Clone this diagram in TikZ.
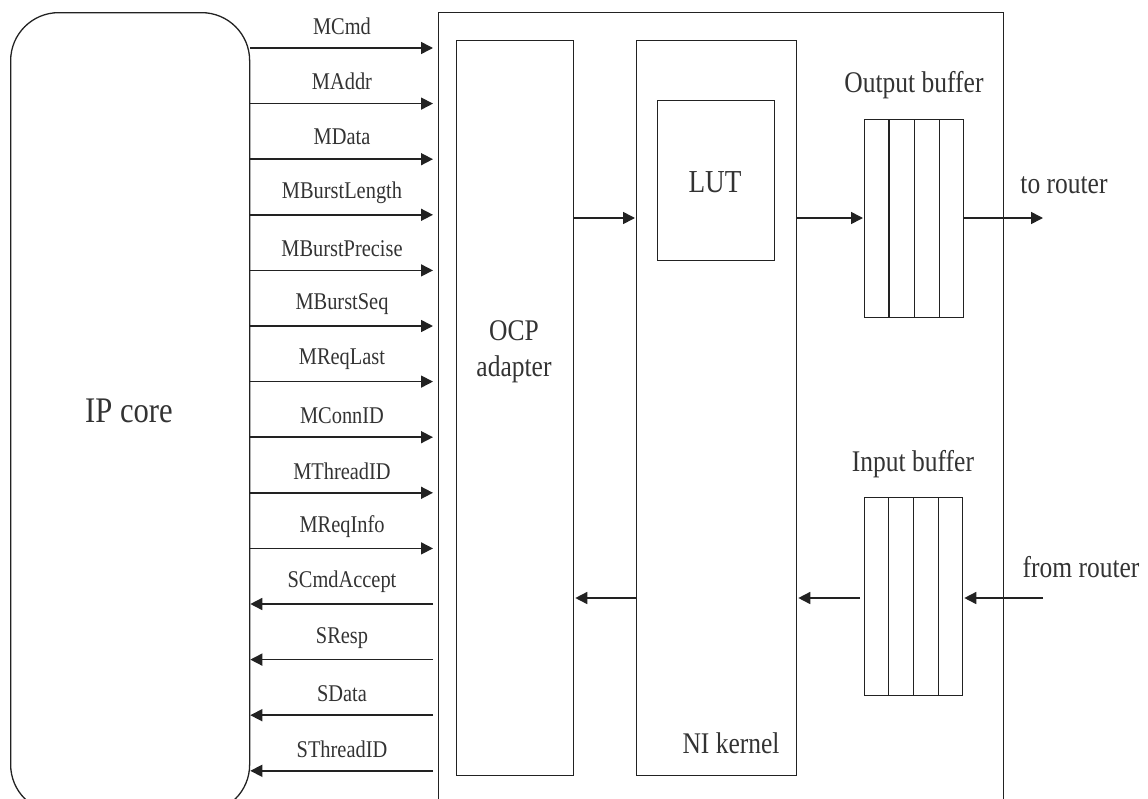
\documentclass[tikz,border=0pt]{standalone}
\usepackage{fontspec}
\setmainfont[FakeStretch=0.85]{Liberation Serif}
\usetikzlibrary{arrows.meta,calc}
\definecolor{ln}{HTML}{222222}
\definecolor{tx}{HTML}{333333}
\tikzset{
  box/.style={draw=ln, line width=1.3pt, fill=none, inner sep=0pt, anchor=north west},
  sig/.style={draw=ln, line width=1.6pt, -{Triangle[length=12pt,width=12pt]}},
  lab/.style={text=tx, font=\fontsize{24}{28}\selectfont, inner sep=0pt},
  big/.style={text=tx, font=\fontsize{30}{36}\selectfont, inner sep=0pt, align=center},
}
\begin{document}
\begin{tikzpicture}[x=1pt,y=-1pt]
\useasboundingbox (0,0) rectangle (1148,798);
% IP core
\node[box, rounded corners=48pt, minimum width=239pt, minimum height=800pt] (ip) at (10,12) {};
\node[text=tx, font=\fontsize{36}{40}\selectfont] (iplab) at (129,411) {IP core};
% NI outer
\node[box, minimum width=565pt, minimum height=800pt] (ni) at (438,12) {};
% OCP adapter
\node[box, minimum width=117pt, minimum height=735pt] (ocp) at (456,40) {};
\node[big] (ocplab) at (514,352) {OCP\\adapter};
% NI kernel
\node[box, minimum width=160pt, minimum height=735pt] (ker) at (636,40) {};
\node[big] (kerlab) at (731,743) {NI kernel};
% LUT
\node[box, minimum width=117pt, minimum height=160pt] (lut) at (657,100) {};
\node[big, font=\fontsize{32}{36}\selectfont] (lutlab) at (715,182) {LUT};
% Output buffer
\node[box, minimum width=99pt, minimum height=198pt] (ob) at (864,119) {};
\foreach \f in {0.25,0.5,0.75} \draw[ln, line width=1.3pt] ($(ob.north west)!\f!(ob.north east)$) -- ($(ob.south west)!\f!(ob.south east)$);
\node[big] (oblab) at (914,85) {Output buffer};
% Input buffer
\node[box, minimum width=98pt, minimum height=198pt] (ib) at (864,497) {};
\foreach \f in {0.25,0.5,0.75} \draw[ln, line width=1.3pt] ($(ib.north west)!\f!(ib.north east)$) -- ($(ib.south west)!\f!(ib.south east)$);
\node[big] (iblab) at (913,464) {Input buffer};
% router labels
\coordinate (torouter) at (1043,218);
\coordinate (fromrouter) at (1043,598);
\node[big] (tolab) at (1064,185) {to router};
\node[big] (fromlab) at (1081,567) {from router};
% internal arrows
\draw[sig] (ocp.east |- 0,218) -- ([xshift=-1pt]ker.west |- 0,218);
\draw[sig] (ker.east |- 0,218) -- ([xshift=-1pt]ob.west |- 0,218);
\draw[sig] (ob.east |- 0,218) -- (torouter);
\draw[sig] (fromrouter) -- ([xshift=1pt]ib.east |- 0,598);
\draw[sig] ([xshift=-4pt]ib.west |- 0,598) -- ([xshift=1pt]ker.east |- 0,598);
\draw[sig] (ker.west |- 0,598) -- ([xshift=1pt]ocp.east |- 0,598);
% signals
\foreach \i/\t in {0/MCmd,1/MAddr,2/MData,3/MBurstLength,4/MBurstPrecise,5/MBurstSeq,6/MReqLast,7/MConnID,8/MThreadID,9/MReqInfo}{
  \pgfmathsetmacro{\yy}{48+55.6*\i}
  \draw[sig] (ip.east |- 0,\yy) -- ([xshift=-5pt]ni.west |- 0,\yy);
  \node[lab] (s\i) at (342,\yy-22) {\t};
}
\foreach \i/\t in {10/SCmdAccept,11/SResp,12/SData,13/SThreadID}{
  \pgfmathsetmacro{\yy}{48+55.6*\i}
  \draw[sig] ([xshift=-5pt]ni.west |- 0,\yy) -- (ip.east |- 0,\yy);
  \node[lab] (s\i) at (342,\yy-22) {\t};
}
\end{tikzpicture}
\end{document}
